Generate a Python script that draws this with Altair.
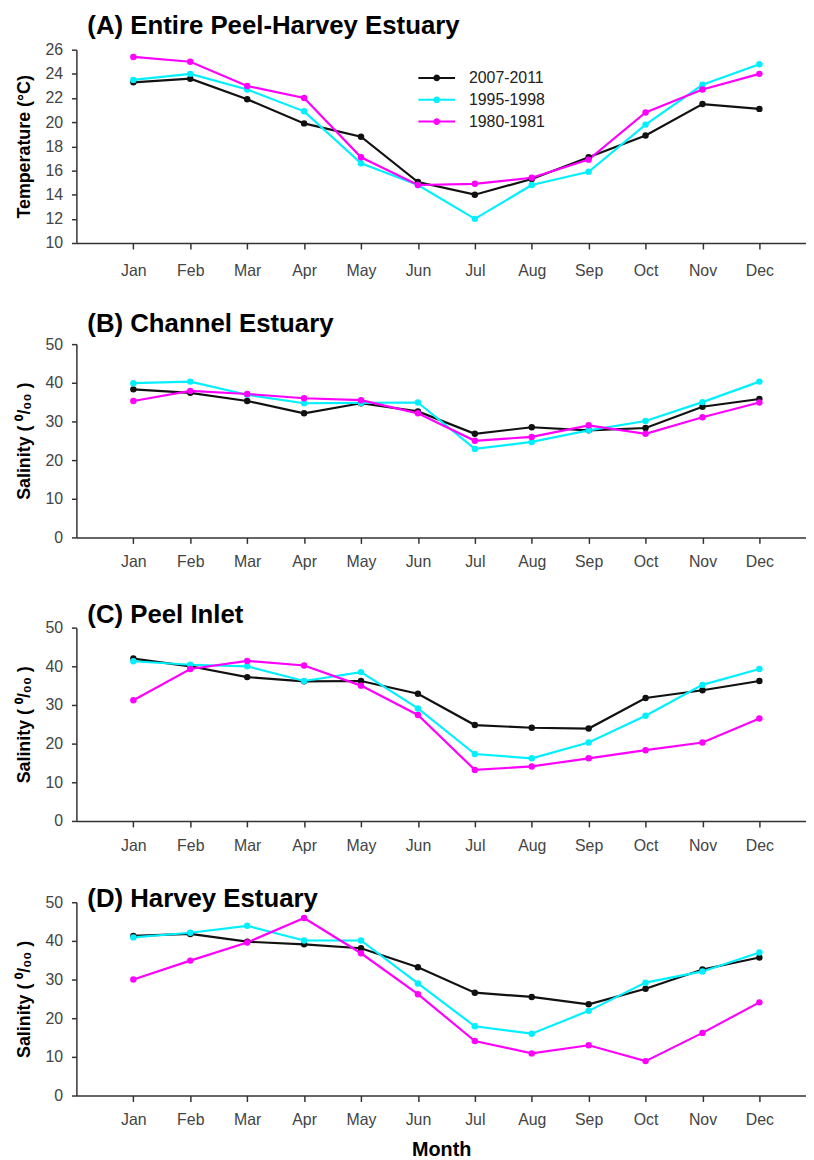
import altair as alt
import pandas as pd

months = ["Jan", "Feb", "Mar", "Apr", "May", "Jun", "Jul", "Aug", "Sep", "Oct", "Nov", "Dec"]
periods = ["2007-2011", "1995-1998", "1980-1981"]
colors = ["#111111", "#00f0ff", "#ff00ff"]

# (A) Entire Peel-Harvey Estuary - temperature (°C)
temp_2007 = [23.3, 23.6, 21.9, 19.9, 18.8, 15.05, 14.0, 15.3, 17.1, 18.9, 21.5, 21.1]
temp_1995 = [23.5, 24.0, 22.7, 20.9, 16.6, 14.8, 12.0, 14.8, 15.9, 19.8, 23.1, 24.8]
temp_1980 = [25.4, 25.0, 23.0, 22.0, 17.1, 14.8, 14.9, 15.4, 16.9, 20.8, 22.7, 24.0]

# (B) Channel Estuary - salinity
chan_2007 = [38.3, 37.4, 35.3, 32.1, 34.7, 32.6, 26.8, 28.5, 27.7, 28.3, 33.8, 35.8]
chan_1995 = [39.9, 40.3, 36.9, 34.7, 34.8, 34.9, 22.9, 24.7, 27.7, 30.1, 35.0, 40.3]
chan_1980 = [35.3, 37.9, 37.1, 36.0, 35.5, 32.1, 25.0, 26.0, 29.0, 26.8, 31.1, 34.9]

# (C) Peel Inlet - salinity
peel_2007 = [42.0, 40.0, 37.2, 36.1, 36.2, 32.9, 24.8, 24.1, 23.9, 31.8, 33.8, 36.2]
peel_1995 = [41.3, 40.4, 40.0, 36.2, 38.5, 29.1, 17.3, 16.2, 20.3, 27.2, 35.2, 39.3]
peel_1980 = [31.2, 39.3, 41.4, 40.2, 35.0, 27.4, 13.2, 14.1, 16.2, 18.3, 20.3, 26.5]

# (D) Harvey Estuary - salinity
harv_2007 = [41.3, 41.8, 39.8, 39.1, 38.1, 33.2, 26.6, 25.5, 23.6, 27.6, 32.6, 35.7]
harv_1995 = [40.9, 42.1, 43.9, 40.1, 40.1, 29.0, 17.9, 16.0, 21.9, 29.2, 32.1, 37.0]
harv_1980 = [30.0, 34.9, 39.6, 45.9, 36.8, 26.2, 14.1, 10.9, 13.0, 8.9, 16.2, 24.1]

temp_ticks = [10, 12, 14, 16, 18, 20, 22, 24, 26]
sal_ticks = [0, 10, 20, 30, 40, 50]

FONT = "Liberation Sans, Arial, sans-serif"
LEGEND_PATH = ("M-2.5,0H2.5"
               "M-0.15,0a0.15,0.15 0 1,0 0.3,0a0.15,0.15 0 1,0 -0.3,0"
               "M-0.32,0a0.32,0.32 0 1,0 0.64,0a0.32,0.32 0 1,0 -0.64,0")


def to_long(series_list):
    rows = []
    for period, vals in zip(periods, series_list):
        for m, v in zip(months, vals):
            rows.append({"Month": m, "Period": period, "Value": v})
    return pd.DataFrame(rows)


def panel(series_list, title, ytitle, ydomain, yticks, legend, t_offset,
          label_pad, xtitle=None):
    df = to_long(series_list)
    color = alt.Color("Period:N", sort=periods,
                      scale=alt.Scale(domain=periods, range=colors),
                      legend=legend)
    xaxis_kw = dict(labelAngle=0, labelPadding=label_pad, tickSize=6,
                    labelOverlap=False)
    if xtitle:
        xaxis_kw.update(title=xtitle, titleFontSize=20, titlePadding=12)
    else:
        xaxis_kw.update(title=None)
    x = alt.X("Month:N", sort=months,
              scale=alt.Scale(type="point", padding=0.91, align=0.55),
              axis=alt.Axis(**xaxis_kw))
    y = alt.Y("Value:Q",
              scale=alt.Scale(domain=ydomain, nice=False, zero=False),
              axis=alt.Axis(values=yticks, title=ytitle, tickSize=5,
                            labelPadding=9, titlePadding=12,
                            labelFlush=False, labelOverlap=False))
    chart = alt.Chart(df).mark_line(
        strokeWidth=2.2,
        point=alt.OverlayMarkDef(filled=True, size=42),
    ).encode(x=x, y=y, color=color, detail="Period:N")
    return chart.properties(
        width=736, height=195,
        title=alt.TitleParams(title, anchor="start", frame="group", dx=11,
                              offset=t_offset, fontSize=26, font=FONT,
                              fontWeight="bold", color="#000000"),
    )


legend_a = alt.Legend(title=None, orient="none", legendX=355, legendY=20,
                      symbolType=LEGEND_PATH, symbolSize=219,
                      symbolStrokeWidth=2, labelFontSize=16, labelFont=FONT,
                      labelColor="#222222", labelOffset=24, rowPadding=5,
                      padding=0)

sal_title = "Salinity ( ⁰/₀₀ )"

pa = panel([temp_2007, temp_1995, temp_1980], "(A) Entire Peel-Harvey Estuary",
           "Temperature (°C)", [10, 26], temp_ticks, legend_a, 3, 14)
pb = panel([chan_2007, chan_1995, chan_1980], "(B) Channel Estuary",
           sal_title, [0, 50], sal_ticks, None, -1, 10)
pc = panel([peel_2007, peel_1995, peel_1980], "(C) Peel Inlet",
           sal_title, [0, 50], sal_ticks, None, -8, 11)
pd_ = panel([harv_2007, harv_1995, harv_1980], "(D) Harvey Estuary",
            sal_title, [0, 50], sal_ticks, None, -18, 10, xtitle="Month")

chart = alt.vconcat(pa, pb, pc, pd_, spacing=33).resolve_legend(
    color="independent"
).properties(
    padding={"left": 7, "top": 0, "right": 0, "bottom": 0}
).configure_view(
    stroke=None
).configure_axis(
    grid=False,
    domainColor="#333333",
    domainWidth=1.5,
    tickColor="#333333",
    tickWidth=1.5,
    labelColor="#444444",
    labelFont=FONT,
    labelFontSize=16,
    titleFont=FONT,
    titleFontSize=18,
    titleFontWeight="bold",
    titleColor="#000000",
)

chart.save("out.html", embed_options={"renderer": "svg", "actions": False})
